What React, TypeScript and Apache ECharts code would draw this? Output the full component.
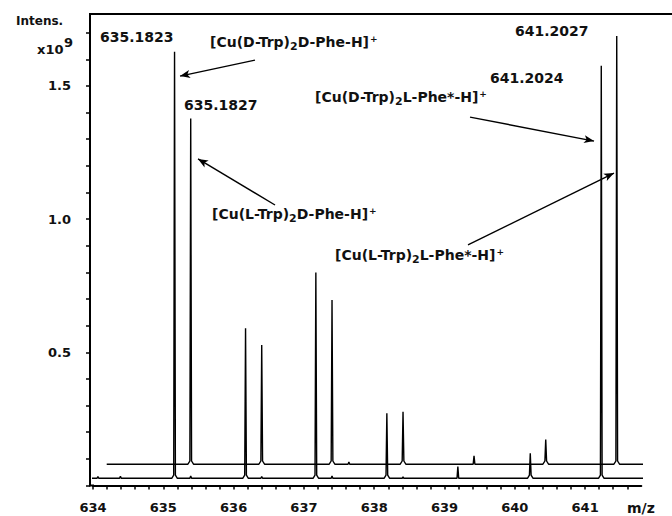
import React, { useEffect, useRef } from "react";
import * as echarts from "echarts";

// ---- data ----
const xTickLabels = ["634", "635", "636", "637", "638", "639", "640", "641"];
const yTickLabels = ["0.5", "1.0", "1.5"];

// lower trace (offset baseline)
const lowerMz = [634.07, 634.39, 635.16, 635.39, 636.17, 636.4, 637.17, 637.4, 638.18, 638.41, 639.19, 640.22, 641.23];
const lowerTop = [0.034, 0.035, 1.628, 0.036, 0.59, 0.034, 0.8, 0.036, 0.271, 0.033, 0.071, 0.121, 1.576];
const lowerBase = 0.027;
const lowerSpan = [633.957, 642.02];

// upper trace (shifted right and up)
const upperMz = [635.39, 636.4, 637.4, 637.64, 638.41, 639.42, 640.44, 641.45];
const upperTop = [1.378, 0.527, 0.696, 0.088, 0.277, 0.111, 0.173, 1.687];
const upperBase = 0.08;
const upperSpan = [634.195, 642.6];

// annotation arrows: [fromMz, fromI, toMz, toI]
const arrows = [
  [636.304, 1.597, 635.238, 1.537],
  [636.589, 1.053, 635.494, 1.226],
  [639.363, 1.383, 641.127, 1.293],
  [639.334, 0.903, 641.411, 1.173],
];

const peakLabels = ["635.1823", "635.1827", "641.2027", "641.2024"];
// [prefix, subscript, middle, superscript]
const complexLabels = [
  ["[Cu(D-Trp)", "2", "D-Phe-H]", "+"],
  ["[Cu(D-Trp)", "2", "L-Phe*-H]", "+"],
  ["[Cu(L-Trp)", "2", "D-Phe-H]", "+"],
  ["[Cu(L-Trp)", "2", "L-Phe*-H]", "+"],
];

function trace(mz: number[], top: number[], base: number, span: number[]) {
  const pts: number[][] = [[span[0], base]];
  mz.forEach((m, i) => {
    const h = top[i];
    if (h - base > 0.05) {
      pts.push([m - 0.04, base], [m - 0.012, base + 0.012], [m, h], [m + 0.012, base + 0.012], [m + 0.04, base]);
    } else {
      pts.push([m - 0.012, base], [m, h], [m + 0.012, base]);
    }
  });
  pts.push([span[1], base]);
  return pts;
}

const FONT = '"DejaVu Sans", "Liberation Sans", Arial, sans-serif';

function txt(text: string, x: number, y: number, size: number, weight = "bold") {
  return {
    type: "text",
    silent: true,
    style: {
      text,
      x,
      y,
      fill: "#111",
      font: `${weight} ${size}px ${FONT}`,
      textAlign: "left",
      textVerticalAlign: "middle",
      align: "left",
      verticalAlign: "middle",
    },
  };
}

function complexTxt(parts: string[], x: number, y: number) {
  const [a, sub, b, sup] = parts;
  const base = { fontFamily: FONT, fontWeight: "bold", fontSize: 14, color: "#111", fill: "#111", lineHeight: 20, verticalAlign: "middle" };
  return {
    type: "text",
    silent: true,
    style: {
      text: `{m|${a}}{s|${sub}}{m|${b}}{p|${sup}}`,
      x,
      y,
      fill: "#111",
      textAlign: "left",
      textVerticalAlign: "middle",
      align: "left",
      verticalAlign: "middle",
      rich: {
        m: base,
        s: { ...base, fontSize: 11, lineHeight: 11, verticalAlign: "bottom" },
        p: { ...base, fontSize: 9, lineHeight: 9, verticalAlign: "top", padding: [2, 0, 0, 1] },
      },
    },
  };
}

export default function App() {
  const ref = useRef<HTMLDivElement>(null);
  useEffect(() => {
    if (!ref.current) return;
    const chart = echarts.init(ref.current, undefined, { renderer: "svg" });
    const isInt = (v: number) => Math.abs(v - Math.round(v)) < 1e-6;
    const option = {
      animation: false,
      backgroundColor: "#fff",
      grid: { left: 93, right: 30.66, top: 14, bottom: 30.5 },
      xAxis: {
        type: "value",
        min: 634,
        max: 641.8,
        interval: 0.2,
        axisLine: { show: true, lineStyle: { color: "#000", width: 2 } },
        axisTick: { show: true, inside: false, length: 4, lineStyle: { color: "#000", width: 1.5 } },
        splitLine: { show: false },
        axisLabel: {
          margin: 15,
          color: "#111",
          fontFamily: FONT,
          fontWeight: "bold",
          fontSize: 13,
          showMaxLabel: false,
          formatter: (v: number) => {
            if (!isInt(v)) return "";
            const s = String(Math.round(v));
            return xTickLabels.includes(s) ? s : "";
          },
        },
      },
      yAxis: {
        type: "value",
        min: 0,
        max: 1.77,
        interval: 0.1,
        offset: 3,
        axisLine: { show: true, lineStyle: { color: "#000", width: 2 } },
        axisTick: { show: true, inside: false, length: 4, lineStyle: { color: "#000", width: 1.5 } },
        splitLine: { show: false },
        axisLabel: {
          margin: 19,
          color: "#111",
          fontFamily: FONT,
          fontWeight: "bold",
          fontSize: 13,
          showMaxLabel: false,
          formatter: (v: number) => {
            const s = v.toFixed(1);
            return yTickLabels.includes(s) && Math.abs(v - parseFloat(s)) < 1e-6 ? s : "";
          },
        },
      },
      series: [
        {
          type: "line",
          data: trace(lowerMz, lowerTop, lowerBase, lowerSpan),
          showSymbol: false,
          symbol: "none",
          clip: false,
          silent: true,
          lineStyle: { color: "#000", width: 1.4 },
          markLine: {
            silent: true,
            symbol: ["none", "arrow"],
            symbolSize: [6, 10],
            label: { show: false },
            lineStyle: { color: "#000", width: 1.4, type: "solid" },
            data: arrows.map((a) => [{ coord: [a[0], a[1]] }, { coord: [a[2], a[3]] }]),
          },
        },
        {
          type: "line",
          data: trace(upperMz, upperTop, upperBase, upperSpan),
          showSymbol: false,
          symbol: "none",
          clip: false,
          silent: true,
          lineStyle: { color: "#000", width: 1.4 },
        },
      ],
      graphic: [
        { type: "line", silent: true, shape: { x1: 89, y1: 14, x2: 672, y2: 14 }, style: { stroke: "#000", lineWidth: 2 } },
        { type: "line", silent: true, shape: { x1: 89, y1: 485.5, x2: 94, y2: 485.5 }, style: { stroke: "#000", lineWidth: 2 } },
        txt("Intens.", 16, 21, 12),
        txt("x10", 37, 49, 13),
        txt("9", 64, 42, 13),
        txt("m/z", 627, 507.5, 14),
        txt(peakLabels[0], 100, 37, 14),
        txt(peakLabels[1], 184, 104.5, 14),
        txt(peakLabels[2], 515, 31, 14),
        txt(peakLabels[3], 490, 77.5, 14),
        complexTxt(complexLabels[0], 210, 42),
        complexTxt(complexLabels[1], 315, 97),
        complexTxt(complexLabels[2], 212, 214),
        complexTxt(complexLabels[3], 335, 255),
      ],
    };
    chart.setOption(option as any);
    return () => chart.dispose();
  }, []);
  return (
    <div
      ref={ref}
      style={{ position: "absolute", left: 0, top: 0, width: 672, height: 516, background: "#fff" }}
    />
  );
}
